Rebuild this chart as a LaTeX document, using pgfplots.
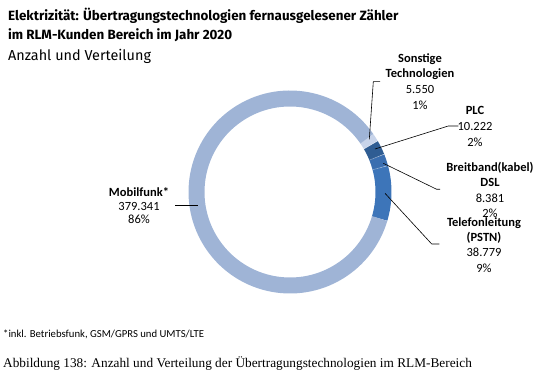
\documentclass[border=0pt]{standalone}
\usepackage{pgfplots}
\pgfplotsset{compat=1.18}
\usepackage{pgfplotstable}
\usepackage{fontspec}
\setmainfont{Carlito}
\newfontfamily\capserif{Liberation Serif}
\newfontfamily\titlefont{Fira Sans}
\definecolor{cMob}{HTML}{9FB4D6}
\definecolor{cSon}{HTML}{C8D4EA}
\definecolor{cPLC}{HTML}{2F5D93}
\definecolor{cDSL}{HTML}{3A6EB0}
\definecolor{cTel}{HTML}{3D75B9}
\pgfplotstableread{
name value
Telefonleitung 38779
DSL 8381
PLC 10222
Sonstige 5550
Mobilfunk 379341
}\data
\newcommand\fs[1]{\fontsize{#1bp}{#1bp}\selectfont}
\begin{document}
\begin{tikzpicture}
\pgfplotstablegetelem{0}{value}\of\data \let\vA\pgfplotsretval
\pgfplotstablegetelem{1}{value}\of\data \let\vB\pgfplotsretval
\pgfplotstablegetelem{2}{value}\of\data \let\vC\pgfplotsretval
\pgfplotstablegetelem{3}{value}\of\data \let\vD\pgfplotsretval
\pgfplotstablegetelem{4}{value}\of\data \let\vE\pgfplotsretval
\edef\tot{\fpeval{\vA+\vB+\vC+\vD+\vE}}
\edef\sA{-16.5}
\edef\sB{\fpeval{round(\sA+360*\vA/\tot,3)}}
\edef\sC{\fpeval{round(\sB+360*\vB/\tot,3)}}
\edef\sD{\fpeval{round(\sC+360*\vC/\tot,3)}}
\edef\sE{\fpeval{round(\sD+360*\vD/\tot,3)}}
\edef\sF{\fpeval{round(\sE+360*\vE/\tot,3)}}
\useasboundingbox (0,0) rectangle (547bp,378bp);
\begin{axis}[at={(0,0)},anchor=south west,scale only axis,width=547bp,height=378bp,
  xmin=0,xmax=547,ymin=-378,ymax=0,hide axis,clip=false]
\def\R{93.5bp}
\draw[line width=16bp,cTel] (axis cs:290,-192) ++(\sA:\R) arc[start angle=\sA,end angle=\sB,radius=\R];
\draw[line width=16bp,cDSL] (axis cs:290,-192) ++(\sB:\R) arc[start angle=\sB,end angle=\sC,radius=\R];
\draw[line width=16bp,cPLC] (axis cs:290,-192) ++(\sC:\R) arc[start angle=\sC,end angle=\sD,radius=\R];
\draw[line width=16bp,cSon] (axis cs:290,-192) ++(\sD:\R) arc[start angle=\sD,end angle=\sE,radius=\R];
\draw[line width=16bp,cMob] (axis cs:290,-192) ++(\sE:\R) arc[start angle=\sE,end angle=\sF,radius=\R];
\draw[white,opacity=0.35,line width=0.6bp] (axis cs:290,-192) ++(\sB:85.5bp) -- ++(\sB:16bp);
\draw[white,opacity=0.35,line width=0.6bp] (axis cs:290,-192) ++(\sC:85.5bp) -- ++(\sC:16bp);
\draw[white,opacity=0.35,line width=0.6bp] (axis cs:290,-192) ++(\sD:85.5bp) -- ++(\sD:16bp);
% leader lines
\draw[black,line width=0.6bp] (axis cs:175,-205) -- (axis cs:198,-205);
\draw[black,line width=0.6bp] (axis cs:380,-81.7) -- (axis cs:373.3,-81.7) -- (axis cs:369.3,-139.3);
\draw[black,line width=0.6bp] (axis cs:458.3,-126) -- (axis cs:448.3,-126) -- (axis cs:375,-149);
\draw[black,line width=0.6bp] (axis cs:383.3,-163.3) -- (axis cs:436.7,-189.3) -- (axis cs:440,-189.3);
\draw[black,line width=0.6bp] (axis cs:385,-193.3) -- (axis cs:431.7,-244) -- (axis cs:439.3,-244);
% titles
\node[anchor=base west,inner sep=0,font=\titlefont\fs{13.4}\bfseries] at (axis cs:8,-20.5) {Elektrizität: Übertragungstechnologien fernausgelesener Zähler};
\node[anchor=base west,inner sep=0,font=\titlefont\fs{13.4}\bfseries] at (axis cs:8,-40) {im RLM-Kunden Bereich im Jahr 2020};
\node[anchor=base west,inner sep=0,font=\titlefont\fs{14.4}] at (axis cs:8,-61) {Anzahl und Verteilung};
% labels
\tikzset{lb/.style={anchor=base,inner sep=0,font=\fs{12.5}\bfseries},lv/.style={anchor=base,inner sep=0,font=\fs{12.5}}}
\node[lb] at (axis cs:139,-197) {Mobilfunk*};
\node[lv] at (axis cs:139,-210.5) {379.341};
\node[lv] at (axis cs:139,-224) {86\%};
\node[lb] at (axis cs:420,-63) {Sonstige};
\node[lb] at (axis cs:420,-78) {Technologien};
\node[lv] at (axis cs:420,-94) {5.550};
\node[lv] at (axis cs:420,-110) {1\%};
\node[lb] at (axis cs:475,-115) {PLC};
\node[lv] at (axis cs:475,-131) {10.222};
\node[lv] at (axis cs:475,-147) {2\%};
\node[lb] at (axis cs:490,-172) {Breitband(kabel)};
\node[lb] at (axis cs:490,-187) {DSL};
\node[lv] at (axis cs:490,-203) {8.381};
\node[lv] at (axis cs:490,-218) {2\%};
\node[lb] at (axis cs:484,-227) {Telefonleitung};
\node[lb] at (axis cs:484,-242) {(PSTN)};
\node[lv] at (axis cs:484,-257) {38.779};
\node[lv] at (axis cs:484,-273) {9\%};
% footnote and caption
\node[anchor=base west,inner sep=0,font=\fs{10.7}] at (axis cs:3,-338) {*inkl. Betriebsfunk, GSM/GPRS und UMTS/LTE};
\node[anchor=base west,inner sep=0,font=\capserif\fs{13.3}] at (axis cs:3,-367) {Abbildung 138: Anzahl und Verteilung der Übertragungstechnologien im RLM-Bereich};
\end{axis}
\end{tikzpicture}
\end{document}
